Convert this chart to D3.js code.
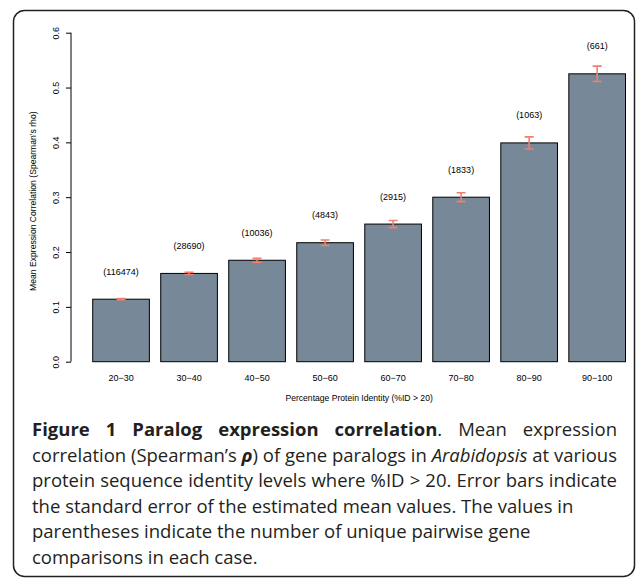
<!DOCTYPE html>
<html>
<head>
<script src="https://cdn.jsdelivr.net/npm/d3@7"></script>
<style>
  body { margin: 0; background: #fff; }
</style>
</head>
<body>
<svg id="chart" width="636" height="582"></svg>
<script>
// values
var categories = ["20\u221230", "30\u221240", "40\u221250", "50\u221260", "60\u221270", "70\u221280", "80\u221290", "90\u2212100"];
var means = [0.114, 0.161, 0.185, 0.217, 0.251, 0.300, 0.399, 0.525];
var stderrs = [0.001, 0.002, 0.0035, 0.005, 0.0065, 0.008, 0.011, 0.014];
var counts = ["(116474)", "(28690)", "(10036)", "(4843)", "(2915)", "(1833)", "(1063)", "(661)"];
var yTicks = [0.0, 0.1, 0.2, 0.3, 0.4, 0.5, 0.6];

var svg = d3.select("#chart");

// frame round the figure
svg.append("rect")
  .attr("x", 13.5).attr("y", 10.5)
  .attr("width", 621).attr("height", 566)
  .attr("rx", 11)
  .attr("fill", "none")
  .attr("stroke", "#222")
  .attr("stroke-width", 1.5);

var x = d3.scaleBand()
  .domain(categories)
  .range([92.7, 625.5])
  .paddingInner(1 / 6)
  .paddingOuter(0);

var y = d3.scaleLinear()
  .domain([0, 0.6])
  .range([361.7, 32.7]);

var font = "'Liberation Sans', Arial, sans-serif";

// y axis
var yAxis = svg.append("g")
  .attr("transform", "translate(71,0)")
  .call(d3.axisLeft(y).tickValues(yTicks).tickSize(5).tickFormat(d3.format(".1f")));
yAxis.select(".domain").attr("d", "M0," + y(0) + "V" + y(0.6));
yAxis.selectAll("text").remove();
yAxis.selectAll(".tick").append("text")
  .attr("transform", "translate(-12,0) rotate(-90)")
  .attr("text-anchor", "middle")
  .attr("fill", "#000")
  .style("font", "9px " + font)
  .text(function (d) { return d3.format(".1f")(d); });

svg.append("text")
  .attr("transform", "translate(36," + ((y(0) + y(0.6)) / 2 + 4) + ") rotate(-90)")
  .attr("text-anchor", "middle")
  .style("font", "8.6px " + font)
  .text("Mean Expression Correlation (Spearman\u2019s rho)");

// bars
svg.append("g").selectAll("rect")
  .data(means)
  .join("rect")
  .attr("x", function (d, i) { return x(categories[i]); })
  .attr("y", function (d) { return y(d); })
  .attr("width", x.bandwidth())
  .attr("height", function (d) { return y(0) - y(d); })
  .attr("fill", "#778899")
  .attr("stroke", "#000")
  .attr("stroke-width", 1);

// error bars
var err = svg.append("g")
  .attr("stroke", "#f27f6b")
  .attr("stroke-width", 1.6)
  .attr("fill", "none");
means.forEach(function (m, i) {
  var cx = x(categories[i]) + x.bandwidth() / 2;
  var lo = y(m - stderrs[i]), hi = y(m + stderrs[i]);
  err.append("path")
    .attr("d", "M" + cx + "," + lo + "V" + hi +
      "M" + (cx - 4.5) + "," + hi + "H" + (cx + 4.5) +
      "M" + (cx - 4.5) + "," + lo + "H" + (cx + 4.5));
});

// counts above bars
svg.append("g").selectAll("text")
  .data(counts)
  .join("text")
  .attr("x", function (d, i) { return x(categories[i]) + x.bandwidth() / 2; })
  .attr("y", function (d, i) { return y(means[i]) - 24.5; })
  .attr("text-anchor", "middle")
  .style("font", "9px " + font)
  .text(function (d) { return d; });

// category labels
svg.append("g").selectAll("text")
  .data(categories)
  .join("text")
  .attr("x", function (d) { return x(d) + x.bandwidth() / 2; })
  .attr("y", 381)
  .attr("text-anchor", "middle")
  .style("font", "9px " + font)
  .text(function (d) { return d; });

svg.append("text")
  .attr("x", (x.range()[0] + x.range()[1]) / 2)
  .attr("y", 401)
  .attr("text-anchor", "middle")
  .style("font", "8.6px " + font)
  .text("Percentage Protein Identity (%ID > 20)");

// caption
var capFont = "'Open Sans', sans-serif";
var capLeft = 32, capRight = 617, capTop = 436, capStep = 25.6;
var captionLines = [
  { justify: true, parts: [
    { t: "Figure 1 Paralog expression correlation", w: "bold" },
    { t: ". Mean expression" }] },
  { justify: true, parts: [
    { t: "correlation (Spearman\u2019s " }, { t: "\u03c1", s: "italic", w: "bold" },
    { t: ") of gene paralogs in " }, { t: "Arabidopsis", s: "italic" }, { t: " at various" }] },
  { justify: true, parts: [
    { t: "protein sequence identity levels where %ID > 20. Error bars indicate" }] },
  { justify: false, parts: [
    { t: "the standard error of the estimated mean values. The values in" }] },
  { justify: false, parts: [
    { t: "parentheses indicate the number of unique pairwise gene" }] },
  { justify: false, parts: [
    { t: "comparisons in each case." }] }
];

captionLines.forEach(function (line, i) {
  var txt = svg.append("text")
    .attr("x", capLeft)
    .attr("y", capTop + i * capStep)
    .attr("fill", "#231f20")
    .style("font-family", capFont)
    .style("font-size", "18.5px");
  line.parts.forEach(function (p) {
    txt.append("tspan")
      .attr("font-weight", p.w || "normal")
      .attr("font-style", p.s || "normal")
      .text(p.t);
  });
  var natural = txt.node().getComputedTextLength();
  var target = capRight - capLeft;
  if (line.justify) {
    var spaces = line.parts.map(function (p) { return p.t; }).join("").split(" ").length - 1;
    if (natural < target) {
      txt.attr("word-spacing", (target - natural) / spaces);
    } else {
      txt.attr("textLength", target).attr("lengthAdjust", "spacingAndGlyphs");
    }
  }
});
</script>
</body>
</html>
